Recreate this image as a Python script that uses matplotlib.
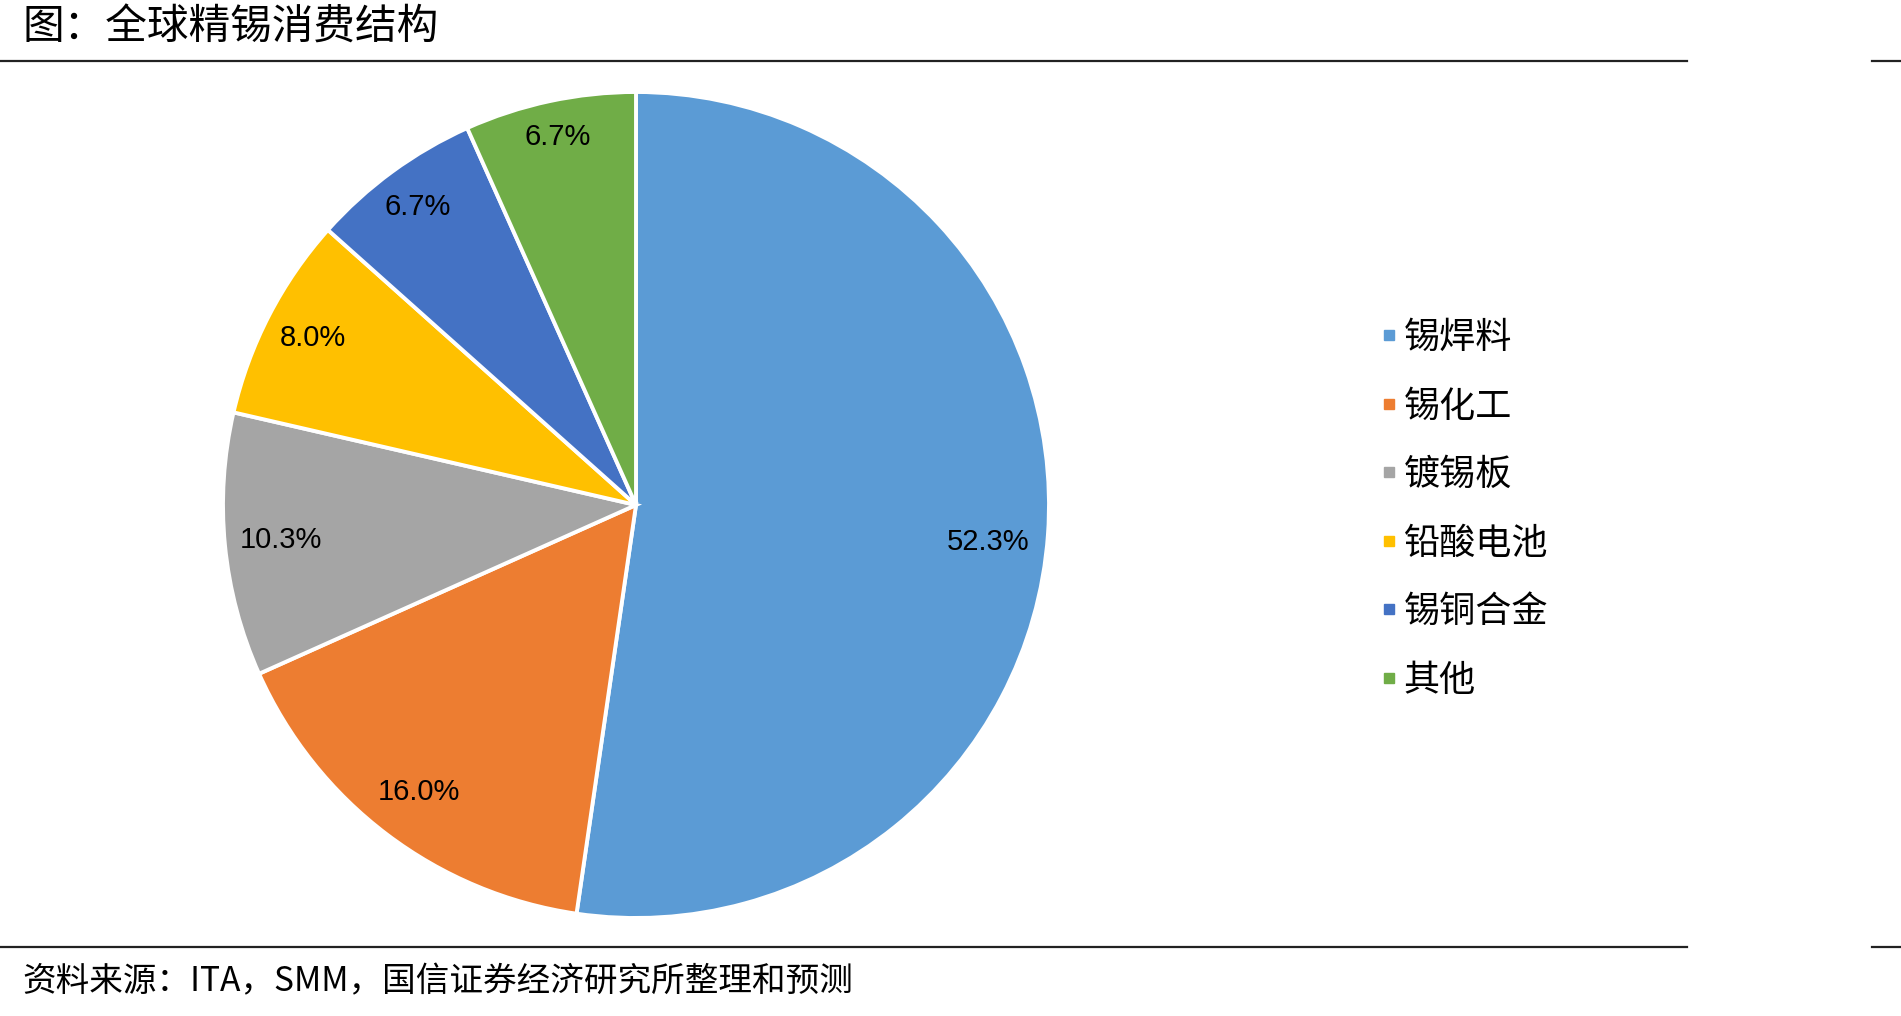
import matplotlib
matplotlib.use("Agg")
import numpy as np
import matplotlib.pyplot as plt
from matplotlib.lines import Line2D

plt.rcParams['font.family'] = ['Noto Sans CJK SC', 'DejaVu Sans']

categories = ['锡焊料', '锡化工', '镀锡板', '铅酸电池', '锡铜合金', '其他']
shares = [52.3, 16.0, 10.3, 8.0, 6.7, 6.7]
colors = ['#5B9BD5', '#ED7D31', '#A5A5A5', '#FFC000', '#4472C4', '#70AD47']

# label radius per wedge (fraction of pie radius), Excel-style placement
label_r = [0.86, 0.87, 0.865, 0.88, 0.895, 0.91]

W, H = 1901, 1016
fig = plt.figure(figsize=(W / 100, H / 100), dpi=100)

# pie axes: centre (636, 505), radius 413 px
cx, cy, r = 636, 505, 413
ax = fig.add_axes([(cx - r) / W, (H - cy - r) / H, 2 * r / W, 2 * r / H])
wedges, texts, autotexts = ax.pie(
    shares, colors=colors, startangle=90, counterclock=False,
    autopct='%.1f%%', pctdistance=0.87, radius=1,
    wedgeprops=dict(edgecolor='white', linewidth=2.8),
    textprops=dict(fontsize=21, family='Liberation Sans', color='black'))
for w, t, d in zip(wedges, autotexts, label_r):
    a = np.deg2rad((w.theta1 + w.theta2) / 2)
    t.set_position((d * np.cos(a), d * np.sin(a)))
autotexts[0].set_position((0.857 * np.cos(np.deg2rad(-6)), 0.857 * np.sin(np.deg2rad(-6))))
ax.set_xlim(-1, 1)
ax.set_ylim(-1, 1)
ax.set_aspect('equal')
ax.axis('off')

# legend
handles = [Line2D([0], [0], marker='s', linestyle='none', markersize=7,
                  markerfacecolor=c, markeredgecolor=c) for c in colors]
fig.legend(handles, categories, loc='upper left',
           bbox_to_anchor=(1362 / W, 1 - 302 / H), frameon=False,
           fontsize=26, handlelength=0.5, handletextpad=0.15,
           labelspacing=0.9, borderpad=0)

# title and source
fig.text(22 / W, 1 - 28 / H, '图：全球精锡消费结构', fontsize=30,
         va='center', ha='left')
fig.text(22 / W, 1 - 982 / H, '资料来源：ITA，SMM，国信证券经济研究所整理和预测',
         fontsize=24.2, va='center', ha='left')

# rule lines
for y in (61, 947):
    fig.add_artist(Line2D([0, 1687 / W], [1 - y / H] * 2, color='#222222', lw=1.6))
    fig.add_artist(Line2D([1872 / W, 1], [1 - y / H] * 2, color='#222222', lw=1.6))

fig.savefig('out.png', dpi=100)
